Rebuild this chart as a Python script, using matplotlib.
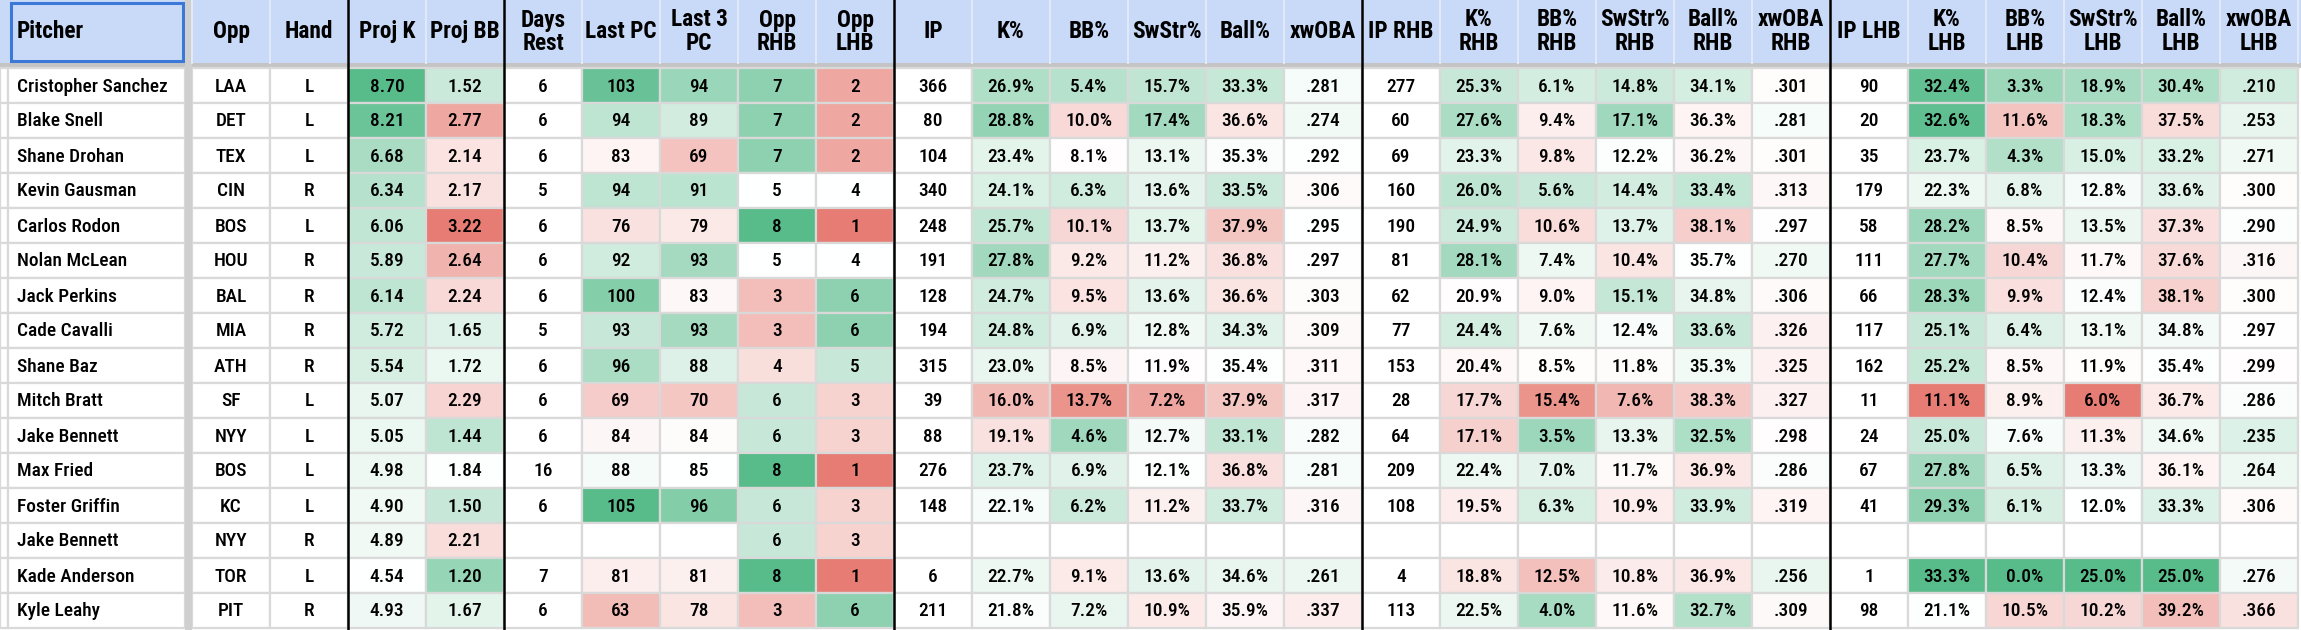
import matplotlib
matplotlib.use("Agg")
import matplotlib.pyplot as plt
import numpy as np
from matplotlib import font_manager as fm
from matplotlib.colors import LinearSegmentedColormap, TwoSlopeNorm
from matplotlib.patches import Rectangle
from matplotlib.textpath import TextPath

# --- data ---
pitchers = ["Cristopher Sanchez", "Blake Snell", "Shane Drohan", "Kevin Gausman",
            "Carlos Rodon", "Nolan McLean", "Jack Perkins", "Cade Cavalli",
            "Shane Baz", "Mitch Bratt", "Jake Bennett", "Max Fried",
            "Foster Griffin", "Jake Bennett", "Kade Anderson", "Kyle Leahy"]
opps = ["LAA", "DET", "TEX", "CIN", "BOS", "HOU", "BAL", "MIA",
        "ATH", "SF", "NYY", "BOS", "KC", "NYY", "TOR", "PIT"]
hands = ["L", "L", "L", "R", "L", "R", "R", "R", "R", "L", "L", "L", "L", "R", "L", "R"]

proj_k = [8.70, 8.21, 6.68, 6.34, 6.06, 5.89, 6.14, 5.72, 5.54, 5.07, 5.05, 4.98, 4.90, 4.89, 4.54, 4.93]
proj_bb = [1.52, 2.77, 2.14, 2.17, 3.22, 2.64, 2.24, 1.65, 1.72, 2.29, 1.44, 1.84, 1.50, 2.21, 1.20, 1.67]
days_rest = [6, 6, 6, 5, 6, 6, 6, 5, 6, 6, 6, 16, 6, None, 7, 6]
last_pc = [103, 94, 83, 94, 76, 92, 100, 93, 96, 69, 84, 88, 105, None, 81, 63]
last3_pc = [94, 89, 69, 91, 79, 93, 83, 93, 88, 70, 84, 85, 96, None, 81, 78]
opp_rhb = [7, 7, 7, 5, 8, 5, 3, 3, 4, 6, 6, 8, 6, 6, 8, 3]
opp_lhb = [2, 2, 2, 4, 1, 4, 6, 6, 5, 3, 3, 1, 3, 3, 1, 6]

ip = [366, 80, 104, 340, 248, 191, 128, 194, 315, 39, 88, 276, 148, None, 6, 211]
k_pct = [26.9, 28.8, 23.4, 24.1, 25.7, 27.8, 24.7, 24.8, 23.0, 16.0, 19.1, 23.7, 22.1, None, 22.7, 21.8]
bb_pct = [5.4, 10.0, 8.1, 6.3, 10.1, 9.2, 9.5, 6.9, 8.5, 13.7, 4.6, 6.9, 6.2, None, 9.1, 7.2]
swstr = [15.7, 17.4, 13.1, 13.6, 13.7, 11.2, 13.6, 12.8, 11.9, 7.2, 12.7, 12.1, 11.2, None, 13.6, 10.9]
ball_pct = [33.3, 36.6, 35.3, 33.5, 37.9, 36.8, 36.6, 34.3, 35.4, 37.9, 33.1, 36.8, 33.7, None, 34.6, 35.9]
xwoba = [.281, .274, .292, .306, .295, .297, .303, .309, .311, .317, .282, .281, .316, None, .261, .337]

ip_rhb = [277, 60, 69, 160, 190, 81, 62, 77, 153, 28, 64, 209, 108, None, 4, 113]
k_rhb = [25.3, 27.6, 23.3, 26.0, 24.9, 28.1, 20.9, 24.4, 20.4, 17.7, 17.1, 22.4, 19.5, None, 18.8, 22.5]
bb_rhb = [6.1, 9.4, 9.8, 5.6, 10.6, 7.4, 9.0, 7.6, 8.5, 15.4, 3.5, 7.0, 6.3, None, 12.5, 4.0]
swstr_rhb = [14.8, 17.1, 12.2, 14.4, 13.7, 10.4, 15.1, 12.4, 11.8, 7.6, 13.3, 11.7, 10.9, None, 10.8, 11.6]
ball_rhb = [34.1, 36.3, 36.2, 33.4, 38.1, 35.7, 34.8, 33.6, 35.3, 38.3, 32.5, 36.9, 33.9, None, 36.9, 32.7]
xwoba_rhb = [.301, .281, .301, .313, .297, .270, .306, .326, .325, .327, .298, .286, .319, None, .256, .309]

ip_lhb = [90, 20, 35, 179, 58, 111, 66, 117, 162, 11, 24, 67, 41, None, 1, 98]
k_lhb = [32.4, 32.6, 23.7, 22.3, 28.2, 27.7, 28.3, 25.1, 25.2, 11.1, 25.0, 27.8, 29.3, None, 33.3, 21.1]
bb_lhb = [3.3, 11.6, 4.3, 6.8, 8.5, 10.4, 9.9, 6.4, 8.5, 8.9, 7.6, 6.5, 6.1, None, 0.0, 10.5]
swstr_lhb = [18.9, 18.3, 15.0, 12.8, 13.5, 11.7, 12.4, 13.1, 11.9, 6.0, 11.3, 13.3, 12.0, None, 25.0, 10.2]
ball_lhb = [30.4, 37.5, 33.2, 33.6, 37.3, 37.6, 38.1, 34.8, 35.4, 36.7, 34.6, 36.1, 33.3, None, 25.0, 39.2]
xwoba_lhb = [.210, .253, .271, .300, .290, .316, .300, .297, .299, .286, .235, .264, .306, None, .276, .366]

# column header, values, number format, colour scale (red end, midpoint, green end)
stat_cols = [
    ("Proj K", proj_k, "f2", (0.4, 4.54, 8.70)),
    ("Proj BB", proj_bb, "f2", (3.22, 1.85, 0.8)),
    ("Days\nRest", days_rest, "int", None),
    ("Last PC", last_pc, "int", (40, 87, 105)),
    ("Last 3\nPC", last3_pc, "int", (50, 85, 100)),
    ("Opp\nRHB", opp_rhb, "int", (1, 5, 8)),
    ("Opp\nLHB", opp_lhb, "int", (1, 4, 7)),
    ("IP", ip, "int", None),
    ("K%", k_pct, "pct", (11, 21.5, 33)),
    ("BB%", bb_pct, "pct", (15, 8.0, 2)),
    ("SwStr%", swstr, "pct", (5, 12.0, 22)),
    ("Ball%", ball_pct, "pct", (41, 35.5, 29)),
    ("xwOBA", xwoba, "woba", (.6, .295, .0)),
    ("IP RHB", ip_rhb, "int", None),
    ("K%\nRHB", k_rhb, "pct", (10, 21.0, 34)),
    ("BB%\nRHB", bb_rhb, "pct", (17, 8.3, 0)),
    ("SwStr%\nRHB", swstr_rhb, "pct", (4, 12.0, 21)),
    ("Ball%\nRHB", ball_rhb, "pct", (42, 35.8, 29)),
    ("xwOBA\nRHB", xwoba_rhb, "woba", (.6, .295, .0)),
    ("IP LHB", ip_lhb, "int", None),
    ("K%\nLHB", k_lhb, "pct", (11.1, 21.0, 33.3)),
    ("BB%\nLHB", bb_lhb, "pct", (16, 8.0, 0.0)),
    ("SwStr%\nLHB", swstr_lhb, "pct", (6.0, 12.0, 25.0)),
    ("Ball%\nLHB", ball_lhb, "pct", (43, 35.5, 25.0)),
    ("xwOBA\nLHB", xwoba_lhb, "woba", (.6, .295, .0)),
]

# --- layout (pixels) ---
W, H = 2301, 630
HEAD_H, BAND_H, ROW_H = 63, 5, 35
STRIP_W, NAME_W, GAP_W, SMALL_W, STAT_W = 8, 177, 7, 78, 78
HEADER_BG = "#c9daf8"
GRID = "#d9d9d9"

cmap = LinearSegmentedColormap.from_list("gwr", ["#e67c73", "#ffffff", "#57bb8a"])


# --- fonts: the sheet uses a narrow font, so look for a condensed face ---
def _num_weight(w):
    if isinstance(w, (int, float)):
        return w
    return {"light": 300, "normal": 400, "regular": 400, "book": 400, "medium": 500,
            "semibold": 600, "demibold": 600, "bold": 700, "heavy": 800,
            "extra bold": 800, "black": 900}.get(str(w).lower(), 400)


def _is_narrow(f):
    st = f.stretch
    narrow_stretch = (isinstance(st, str) and "condensed" in st.lower()) or \
        (isinstance(st, (int, float)) and st < 500)
    return narrow_stretch or "Narrow" in f.name or "Condensed" in f.name


def pick_font(weight):
    prefs = ["Roboto Condensed", "Liberation Sans Narrow", "Noto Sans", "DejaVu Sans",
             "Open Sans", "Roboto"]
    cands = [f for f in fm.fontManager.ttflist if _is_narrow(f) and f.style == "normal"]
    if not cands:
        return fm.FontProperties(family="DejaVu Sans", weight=weight)

    def key(f):
        rank = next((i for i, p in enumerate(prefs) if f.name.startswith(p)), len(prefs))
        return (rank, abs(_num_weight(f.weight) - weight), _num_weight(f.weight))
    best = sorted(cands, key=key)[0]
    return fm.FontProperties(fname=best.fname)


def fit_size(prop, text, width_px, cap_px):
    w_pt = TextPath((0, 0), text, prop=prop, size=20).get_extents().width * 100 / 72
    h_pt = TextPath((0, 0), "H", prop=prop, size=20).get_extents().height * 100 / 72
    return min(20 * width_px / w_pt, 20 * cap_px / h_pt)


body_font = pick_font(500)
head_font = pick_font(700)
body_size = fit_size(body_font, "Cristopher Sanchez", 149, 17.5)
head_size = fit_size(head_font, "SwStr%", 68, 16.5)


def fmt(v, kind):
    if v is None:
        return ""
    if kind == "f2":
        return f"{v:.2f}"
    if kind == "pct":
        return f"{v:.1f}%"
    if kind == "woba":
        return f"{v:.3f}".lstrip("0")
    return str(int(v))


def cell_color(v, scale):
    if v is None or scale is None:
        return "white"
    red, mid, green = scale
    if green > red:
        t = TwoSlopeNorm(vcenter=mid, vmin=red, vmax=green)(v)
    else:
        t = 1 - TwoSlopeNorm(vcenter=mid, vmin=green, vmax=red)(v)
    return cmap(float(np.clip(t, 0, 1)))


fig = plt.figure(figsize=(W / 100, H / 100), dpi=100)
ax = fig.add_axes([0, 0, 1, 1])
ax.set_xlim(0, W)
ax.set_ylim(H, 0)
ax.axis("off")

x_name = STRIP_W
x_opp = x_name + NAME_W + GAP_W
x_hand = x_opp + SMALL_W
x_stat0 = x_hand + SMALL_W
n_rows = len(pitchers)
row_top = HEAD_H + BAND_H

# header row
ax.add_patch(Rectangle((0, 0), W, HEAD_H, facecolor=HEADER_BG, edgecolor="none"))
ax.add_patch(Rectangle((0, HEAD_H), W, BAND_H, facecolor="#c4c4c4", edgecolor="none"))
for x in [x_opp, x_hand] + [x_stat0 + i * STAT_W for i in range(len(stat_cols) + 1)]:
    ax.plot([x, x], [0, HEAD_H], color="#e2eaf9", lw=1.4)

hdr = dict(fontproperties=head_font, fontsize=head_size, fontweight="bold",
           va="center", color="black", linespacing=1.0)
ax.text(x_name + 9, HEAD_H / 2, "Pitcher", ha="left", **hdr)
ax.text(x_opp + SMALL_W / 2, HEAD_H / 2, "Opp", ha="center", **hdr)
ax.text(x_hand + SMALL_W / 2, HEAD_H / 2, "Hand", ha="center", **hdr)
for i, (name, _, _, _) in enumerate(stat_cols):
    ax.text(x_stat0 + i * STAT_W + STAT_W / 2, HEAD_H / 2, name, ha="center", **hdr)

# selected-cell outline on "Pitcher"
ax.add_patch(Rectangle((x_name + 3, 3), NAME_W - 5, HEAD_H - 5, facecolor="none",
                       edgecolor="#3c78d8", lw=2.2))

# data rows
txt = dict(fontproperties=body_font, fontsize=body_size, va="center", color="black")
for r in range(n_rows):
    y = row_top + r * ROW_H
    yc = y + ROW_H / 2 + 1
    for x0, w in [(0, STRIP_W), (x_name, NAME_W), (x_opp, SMALL_W), (x_hand, SMALL_W)]:
        ax.add_patch(Rectangle((x0, y), w, ROW_H, facecolor="white", edgecolor=GRID, lw=1.6))
    ax.text(x_name + 9, yc, pitchers[r], ha="left", **txt)
    ax.text(x_opp + SMALL_W / 2, yc, opps[r], ha="center", **txt)
    ax.text(x_hand + SMALL_W / 2, yc, hands[r], ha="center", **txt)
    for i, (_, vals, kind, scale) in enumerate(stat_cols):
        x = x_stat0 + i * STAT_W
        v = vals[r]
        ax.add_patch(Rectangle((x, y), STAT_W, ROW_H, facecolor=cell_color(v, scale),
                               edgecolor=GRID, lw=1.6))
        ax.text(x + STAT_W / 2, yc, fmt(v, kind), ha="center", **txt)

# grey divider after the pitcher column
ax.add_patch(Rectangle((x_name + NAME_W, 0), GAP_W, H, facecolor="#cfcfcf", edgecolor="none"))

# black group dividers
for ci in [0, 2, 7, 13, 19]:
    xb = x_stat0 + ci * STAT_W
    ax.plot([xb, xb], [0, H], color="black", lw=1.8)

fig.savefig("out.png", dpi=100)
